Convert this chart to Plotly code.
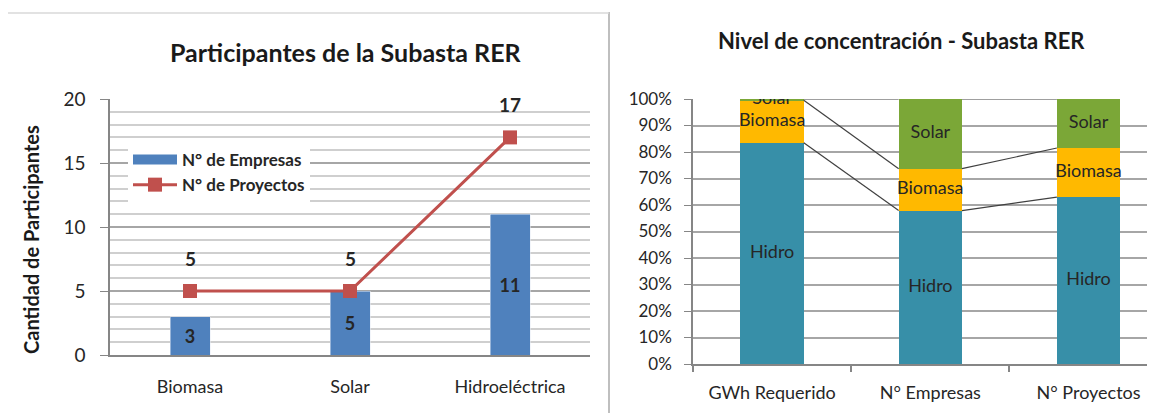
import plotly.graph_objects as go

# left chart: participants
tecnologias = ["Biomasa", "Solar", "Hidroeléctrica"]
n_empresas = [3, 5, 11]
n_proyectos = [5, 5, 17]

# right chart: concentration (%)
grupos = ["GWh Requerido", "N° Empresas", "N° Proyectos"]
hidro = [83.5, 57.9, 63.0]
biomasa = [16.0, 15.8, 18.5]
solar = [0.5, 26.3, 18.5]

FONT = "Lato, Open Sans, sans-serif"
TXT = "#262626"
BLUE, RED = "#4F81BD", "#C0504D"
BAR_W = 0.4
W, H = 1155, 413
OFF = 8  # page offset of the figure


def px(x):
    return (x - OFF) / W


def py(y):
    return 1 - (y - OFF) / H


fig = go.Figure()

# ---- left chart
fig.add_trace(go.Bar(
    x=tecnologias, y=n_empresas, name="N° de Empresas",
    marker=dict(color=BLUE), showlegend=False,
    text=n_empresas, textposition="inside", insidetextanchor="middle",
    textfont=dict(size=18, color=TXT, weight="bold"),
    xaxis="x", yaxis="y",
))
# legend key drawn as a thick bar like the original
fig.add_trace(go.Scatter(
    x=[None], y=[None], mode="lines", name="N° de Empresas",
    line=dict(color=BLUE, width=10), xaxis="x", yaxis="y",
))
fig.add_trace(go.Scatter(
    x=tecnologias, y=n_proyectos, name="N° de Proyectos",
    mode="lines+markers",
    line=dict(color=RED, width=3),
    marker=dict(symbol="square", size=14, color=RED),
    xaxis="x", yaxis="y",
))

# ---- right chart (stacked)
x_num = list(range(len(grupos)))
for name, vals, col in [("Hidro", hidro, "#378FA8"),
                        ("Biomasa", biomasa, "#FFB900"),
                        ("Solar", solar, "#7BA737")]:
    fig.add_trace(go.Bar(
        x=x_num, y=vals, name=name, width=BAR_W,
        marker=dict(color=col, line=dict(width=0)),
        showlegend=False, xaxis="x2", yaxis="y2",
    ))

# cumulative levels for series lines and labels
cum1 = hidro
cum2 = [h + b for h, b in zip(hidro, biomasa)]
cum3 = [h + b + s for h, b, s in zip(hidro, biomasa, solar)]

lx, ly = [], []
for lev in (cum1, cum2, cum3):
    for i in range(len(grupos) - 1):
        lx += [i + BAR_W / 2, i + 1 - BAR_W / 2, None]
        ly += [lev[i], lev[i + 1], None]
fig.add_trace(go.Scatter(
    x=lx, y=ly, mode="lines", line=dict(color="#404040", width=1.2),
    showlegend=False, hoverinfo="skip", xaxis="x2", yaxis="y2",
))

for name, lo, hi in [("Hidro", [0] * 3, cum1), ("Biomasa", cum1, cum2), ("Solar", cum2, cum3)]:
    fig.add_trace(go.Scatter(
        x=x_num, y=[(a + b) / 2 for a, b in zip(lo, hi)],
        mode="text", text=[name] * 3,
        textfont=dict(size=18, color=TXT, family=FONT),
        showlegend=False, hoverinfo="skip", xaxis="x2", yaxis="y2",
    ))

# labels above the project markers
annotations = []
for t, v in zip(tecnologias, n_proyectos):
    annotations.append(dict(
        x=t, y=v, xref="x", yref="y", text=f"<b>{v}</b>", showarrow=False,
        yshift=33, font=dict(size=19, color=TXT, family=FONT),
    ))

annotations += [
    dict(text="<b>Participantes de la Subasta RER</b>", x=px(346), y=py(52),
         xref="paper", yref="paper", showarrow=False,
         xanchor="center", yanchor="middle",
         font=dict(size=25, color="#1a1a1a", family=FONT)),
    dict(text="<b>Nivel de concentración - Subasta RER</b>", x=px(901), y=py(40),
         xref="paper", yref="paper", showarrow=False,
         xanchor="center", yanchor="middle",
         font=dict(size=22, color="#1a1a1a", family=FONT)),
    dict(text="<b>Cantidad de Participantes</b>", x=px(31), y=py(240),
         xref="paper", yref="paper", showarrow=False, textangle=-90,
         xanchor="center", yanchor="middle",
         font=dict(size=20, color="#1a1a1a", family=FONT)),
]

fig.update_layout(
    width=W, height=H,
    margin=dict(l=0, r=0, t=0, b=0),
    paper_bgcolor="white", plot_bgcolor="white",
    font=dict(family=FONT, size=16, color=TXT),
    bargap=0.75,
    barmode="stack",
    showlegend=True,
    legend=dict(x=px(128), y=py(142), xanchor="left", yanchor="top",
                bgcolor="white", borderwidth=0, traceorder="normal",
                font=dict(size=17, color=TXT, weight="bold"),
                tracegroupgap=0, itemwidth=44),
    xaxis=dict(domain=[px(110), px(590)], anchor="y", automargin=False,
               showline=True, linecolor="#868686", linewidth=1.5,
               ticks="", tickfont=dict(size=18, color=TXT),
               ticklabelstandoff=15, showgrid=False),
    yaxis=dict(domain=[py(355), py(99)], anchor="x", range=[0, 20], automargin=False,
               tickvals=[0, 5, 10, 15, 20],
               showline=True, linecolor="#868686", linewidth=1.5,
               ticks="outside", ticklen=8, tickcolor="#868686",
               tickfont=dict(size=19, color=TXT), ticklabelstandoff=11,
               showgrid=True, gridcolor="#A6A6A6", gridwidth=1.5,
               minor=dict(dtick=1, showgrid=True, gridcolor="#CFCFCF", gridwidth=1.5),
               zeroline=False),
    xaxis2=dict(domain=[px(693), px(1155)], anchor="y2", range=[-0.5, 2.42],
                automargin=False,
                tickvals=x_num, ticktext=grupos, ticks="",
                tickfont=dict(size=18, color=TXT), ticklabelstandoff=12,
                showline=True, linecolor="#868686", linewidth=1.5,
                showgrid=False, zeroline=False,
                minor=dict(tickvals=[-0.5, 0.5, 1.5], ticks="outside",
                           ticklen=6, tickcolor="#868686", tickwidth=1.5,
                           showgrid=False)),
    yaxis2=dict(domain=[py(364), py(99)], anchor="x2", range=[0, 100],
                automargin=False,
                dtick=10, ticksuffix="%",
                showline=True, linecolor="#868686", linewidth=1.5,
                ticks="outside", ticklen=7, tickcolor="#868686",
                tickfont=dict(size=17, color=TXT), ticklabelstandoff=9,
                showgrid=True, gridcolor="#A6A6A6", gridwidth=1.5,
                zeroline=False),
    annotations=annotations,
    shapes=[
        dict(type="line", xref="paper", yref="paper", x0=px(609), x1=px(609),
             y0=0, y1=py(12), line=dict(color="#BFBFBF", width=2)),
        dict(type="line", xref="paper", yref="paper", x0=0, x1=px(609),
             y0=py(13), y1=py(13), line=dict(color="#D9D9D9", width=1.5)),
    ],
)

fig.write_html("out.html")
